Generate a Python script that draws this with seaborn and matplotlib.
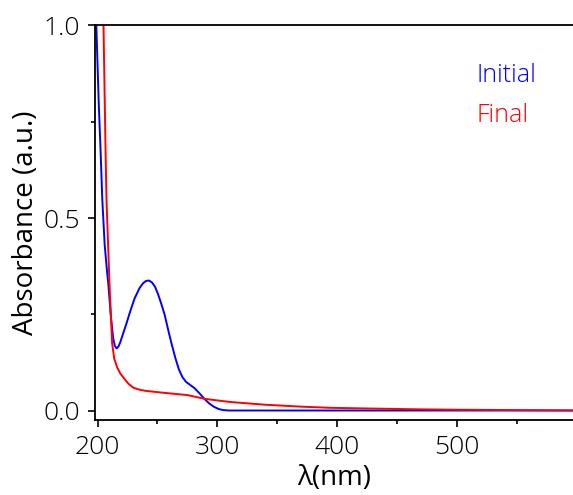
import numpy as np
import pandas as pd
import matplotlib
matplotlib.use("Agg")
import matplotlib.pyplot as plt
import seaborn as sns
from matplotlib.ticker import MultipleLocator, FormatStrFormatter

# values
initial_nm = [198, 199, 200, 201, 202.5, 204, 206, 208, 209, 211, 213, 214.5, 216, 217.5,
              219, 221, 224, 227.5, 231, 235, 238, 240.5, 243, 245.5, 248, 250.5, 253,
              256, 259, 262, 265, 268, 271, 274, 277.5, 281, 285, 289, 293, 297, 301,
              305, 310, 350, 400, 450, 500, 550, 597]
initial_abs = [1.05, 1.0, 0.9, 0.8, 0.68, 0.547, 0.43, 0.36, 0.33, 0.25, 0.19, 0.168, 0.162, 0.167,
               0.178, 0.197, 0.225, 0.26, 0.292, 0.318, 0.331, 0.337, 0.338, 0.333, 0.322, 0.303, 0.28,
               0.25, 0.21, 0.172, 0.137, 0.107, 0.087, 0.075, 0.067, 0.059, 0.046, 0.032, 0.02, 0.011, 0.005,
               0.002, 0.001, 0.001, 0.001, 0.001, 0.001, 0.001, 0.001]

final_nm = [204.5, 205, 206.7, 207.5, 210, 212.2, 214, 216.4, 219, 222, 226, 230, 235, 240,
            255, 275, 290, 311, 340, 370, 394, 430, 470, 500, 550, 597]
final_abs = [1.05, 1.0, 0.676, 0.547, 0.33, 0.175, 0.135, 0.113, 0.097, 0.085, 0.07, 0.06, 0.055, 0.052,
             0.047, 0.041, 0.031, 0.023, 0.016, 0.011, 0.008, 0.006, 0.004, 0.003, 0.002, 0.001]

df = pd.concat([
    pd.DataFrame({"nm": initial_nm, "abs": initial_abs, "sample": "Initial"}),
    pd.DataFrame({"nm": final_nm, "abs": final_abs, "sample": "Final"}),
])

sns.set_style("ticks")
plt.rcParams["font.family"] = ["Open Sans", "DejaVu Sans"]
plt.rcParams["font.weight"] = "light"
plt.rcParams["text.color"] = "black"
plt.rcParams["axes.labelcolor"] = "black"
plt.rcParams["xtick.color"] = "black"
plt.rcParams["ytick.color"] = "black"

fig = plt.figure(figsize=(5.73, 4.95), dpi=100)
ax = fig.add_axes([0.166, 0.152, 0.834, 0.797])

sns.lineplot(data=df, x="nm", y="abs", hue="sample", sort=False,
             palette={"Initial": "#0000ff", "Final": "#ff0000"},
             linewidth=1.4, ax=ax, legend=True)

ax.set_xlim(198, 597)
ax.set_ylim(-0.023, 1.0)
ax.xaxis.set_major_locator(MultipleLocator(100))
ax.xaxis.set_minor_locator(MultipleLocator(50))
ax.yaxis.set_major_locator(MultipleLocator(0.5))
ax.yaxis.set_minor_locator(MultipleLocator(0.25))
ax.tick_params(which="major", length=5, width=1.2, labelsize=19, direction="out")
ax.tick_params(axis="x", which="major", pad=6)
ax.tick_params(axis="y", which="major", pad=6)
ax.tick_params(which="minor", length=3, width=1.2, direction="out")
ax.yaxis.set_major_formatter(FormatStrFormatter("%.1f"))

for s in ["left", "bottom", "top"]:
    ax.spines[s].set_linewidth(1.3)
    ax.spines[s].set_color("black")
ax.spines["right"].set_visible(False)

ax.set_xlabel("λ(nm)", fontsize=20, labelpad=3)
ax.set_ylabel("Absorbance (a.u.)", fontsize=20, labelpad=2)

leg = ax.legend(frameon=False, handlelength=0, handletextpad=0, labelcolor="linecolor",
                fontsize=18, loc="upper left", bbox_to_anchor=(0.75, 0.962), labelspacing=0.6)
for h in leg.legend_handles:
    h.set_visible(False)

fig.savefig("out.png", dpi=100)
